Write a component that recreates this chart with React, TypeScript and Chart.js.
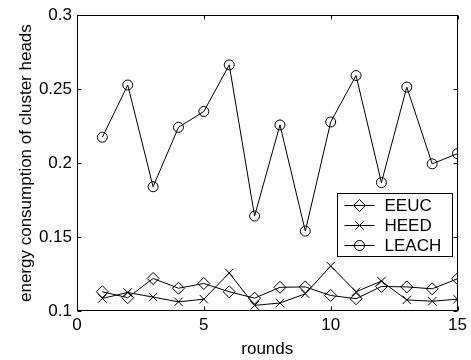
import React, { useEffect, useRef } from 'react';
import { Chart, registerables } from 'chart.js';

Chart.register(...registerables);

// Rounds on the x axis and per-protocol energy consumption of cluster heads
const rounds = [1, 2, 3, 4, 5, 6, 7, 8, 9, 10, 11, 12, 13, 14, 15];
const eeuc = [0.113, 0.109, 0.122, 0.1154, 0.1186, 0.113, 0.1087, 0.116, 0.1163, 0.1105, 0.1083, 0.1166, 0.1163, 0.115, 0.1218];
const heed = [0.1085, 0.1125, 0.1094, 0.1062, 0.108, 0.1257, 0.1038, 0.1054, 0.1116, 0.1304, 0.113, 0.1202, 0.1075, 0.1066, 0.108];
const leach = [0.2175, 0.2528, 0.184, 0.2242, 0.2349, 0.2664, 0.1642, 0.2258, 0.154, 0.2278, 0.2592, 0.1868, 0.2514, 0.1995, 0.2064];

const seriesNames = ['EEUC', 'HEED', 'LEACH'];
const xTicks = [0, 5, 10, 15];
const yTicks = [0.1, 0.15, 0.2, 0.25, 0.3];
const yTickLabels = ['0.1', '0.15', '0.2', '0.25', '0.3'];

const FONT = '"Liberation Sans", Arial, Helvetica, sans-serif';
const FONT_SIZE = 17;
const TICK_LEN = 4;

type MarkerKind = 'diamond' | 'cross' | 'circle';
const markerKinds: MarkerKind[] = ['diamond', 'cross', 'circle'];

function drawMarker(ctx: CanvasRenderingContext2D, kind: MarkerKind, x: number, y: number) {
  ctx.beginPath();
  if (kind === 'circle') {
    ctx.arc(x, y, 5, 0, Math.PI * 2);
  } else if (kind === 'diamond') {
    ctx.moveTo(x, y - 6);
    ctx.lineTo(x + 6, y);
    ctx.lineTo(x, y + 6);
    ctx.lineTo(x - 6, y);
    ctx.closePath();
  } else {
    const h = 4.2;
    ctx.moveTo(x - h, y - h);
    ctx.lineTo(x + h, y + h);
    ctx.moveTo(x + h, y - h);
    ctx.lineTo(x - h, y + h);
  }
  ctx.stroke();
}

// Box frame with inward tick marks on all four sides
const frameTicks = {
  id: 'frameTicks',
  afterDatasetsDraw(chart: any) {
    const { ctx, chartArea: a, scales } = chart;
    const l = Math.round(a.left) + 0.5;
    const r = Math.round(a.right) - 0.5;
    const t = Math.round(a.top) + 0.5;
    const b = Math.round(a.bottom) - 0.5;
    ctx.save();
    ctx.strokeStyle = '#000';
    ctx.lineWidth = 1;
    ctx.strokeRect(l, t, r - l, b - t);
    ctx.beginPath();
    for (const v of xTicks) {
      const px = Math.round(scales.x.getPixelForValue(v)) + 0.5;
      ctx.moveTo(px, b);
      ctx.lineTo(px, b - TICK_LEN);
      ctx.moveTo(px, t);
      ctx.lineTo(px, t + TICK_LEN);
    }
    for (const v of yTicks) {
      const py = Math.round(scales.y.getPixelForValue(v)) + 0.5;
      ctx.moveTo(l, py);
      ctx.lineTo(l + TICK_LEN, py);
      ctx.moveTo(r, py);
      ctx.lineTo(r - TICK_LEN, py);
    }
    ctx.stroke();
    ctx.restore();
  },
};

// Boxed legend inside the lower right of the plot area
const boxLegend = {
  id: 'boxLegend',
  afterDraw(chart: any) {
    const { ctx, chartArea: a } = chart;
    const x0 = Math.round(a.right - 121) + 0.5;
    const x1 = Math.round(a.right - 6) + 0.5;
    const y0 = Math.round(a.top + 178) + 0.5;
    const y1 = y0 + 63;
    ctx.save();
    ctx.fillStyle = '#fff';
    ctx.fillRect(x0, y0, x1 - x0, y1 - y0);
    ctx.strokeStyle = '#000';
    ctx.lineWidth = 1;
    ctx.strokeRect(x0, y0, x1 - x0, y1 - y0);
    ctx.font = `${FONT_SIZE}px ${FONT}`;
    ctx.textAlign = 'left';
    ctx.textBaseline = 'middle';
    ctx.fillStyle = '#000';
    seriesNames.forEach((name, i) => {
      const cy = Math.round(y0 + 11.5 + i * 20) + 0.5;
      ctx.beginPath();
      ctx.moveTo(x0 + 7, cy);
      ctx.lineTo(x0 + 37, cy);
      ctx.stroke();
      drawMarker(ctx, markerKinds[i], x0 + 22, cy);
      ctx.fillText(name, x0 + 47, cy + 1);
    });
    ctx.restore();
  },
};

const toPoints = (ys: number[]) => rounds.map((x, i) => ({ x, y: ys[i] }));

export default function App() {
  const canvasRef = useRef<HTMLCanvasElement | null>(null);

  useEffect(() => {
    if (!canvasRef.current) return;
    const common = {
      borderColor: '#000',
      borderWidth: 1,
      pointBorderColor: '#000',
      pointBackgroundColor: 'rgba(0,0,0,0)',
      pointBorderWidth: 1,
      tension: 0,
      fill: false,
    };
    const chart = new Chart(canvasRef.current, {
      type: 'line',
      data: {
        datasets: [
          { ...common, label: seriesNames[0], data: toPoints(eeuc), pointStyle: 'rectRot', pointRadius: 6 },
          { ...common, label: seriesNames[1], data: toPoints(heed), pointStyle: 'crossRot', pointRadius: 6 },
          { ...common, label: seriesNames[2], data: toPoints(leach), pointStyle: 'circle', pointRadius: 5 },
        ],
      },
      options: {
        responsive: false,
        animation: false,
        events: [],
        layout: { padding: { top: 12, right: 12, left: 0, bottom: 0 } },
        plugins: {
          legend: { display: false },
          tooltip: { enabled: false },
        },
        scales: {
          x: {
            type: 'linear',
            min: 0,
            max: 15,
            afterBuildTicks: (s: any) => {
              s.ticks = xTicks.map((value) => ({ value }));
            },
            afterFit: (s: any) => {
              s.height = 49;
            },
            grid: { display: false, drawTicks: false },
            border: { display: false },
            ticks: {
              padding: 4,
              color: '#000',
              maxRotation: 0,
              font: { family: FONT, size: FONT_SIZE },
              callback: (v: any) => String(v),
            },
            title: {
              display: true,
              text: 'rounds',
              color: '#000',
              font: { family: FONT, size: FONT_SIZE },
              padding: { top: 0, bottom: 0 },
            },
          },
          y: {
            type: 'linear',
            min: 0.1,
            max: 0.3,
            afterBuildTicks: (s: any) => {
              s.ticks = yTicks.map((value) => ({ value }));
            },
            afterFit: (s: any) => {
              s.width = 77;
            },
            grid: { display: false, drawTicks: false },
            border: { display: false },
            ticks: {
              padding: 5,
              color: '#000',
              font: { family: FONT, size: FONT_SIZE },
              callback: (v: any) => {
                const i = yTicks.findIndex((t) => Math.abs(t - v) < 1e-9);
                return i >= 0 ? yTickLabels[i] : '';
              },
            },
            title: {
              display: true,
              text: 'energy consumption of cluster heads',
              color: '#000',
              font: { family: FONT, size: FONT_SIZE },
              padding: { top: 16, bottom: 0 },
            },
          },
        },
      },
      plugins: [frameTicks, boxLegend],
    });
    return () => chart.destroy();
  }, []);

  return (
    <div style={{ position: 'absolute', left: 0, top: 0, width: 471, height: 360, background: '#fff' }}>
      <canvas ref={canvasRef} width={471} height={360} style={{ display: 'block' }} />
    </div>
  );
}
